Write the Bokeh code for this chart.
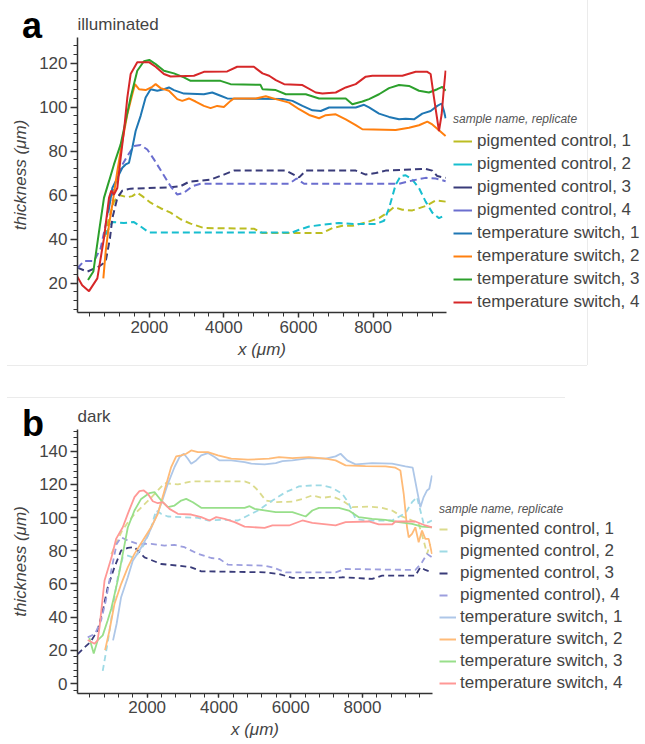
from bokeh.plotting import figure
from bokeh.layouts import column
from bokeh.models import Legend, LegendItem, Range1d, SingleIntervalTicker, Div
from bokeh.embed import file_html
from bokeh.resources import INLINE

# ---------------- data: panel a (illuminated) ----------------
labels_a = ["pigmented control, 1", "pigmented control, 2", "pigmented control, 3",
            "pigmented control, 4", "temperature switch, 1", "temperature switch, 2",
            "temperature switch, 3", "temperature switch, 4"]
colors_a = ["#bcbd22", "#17becf", "#393b79", "#6b6ecf", "#1f77b4", "#ff7f0e", "#2ca02c", "#d62728"]

a_pc1_x = [800, 920, 1053, 1187, 1411, 1545, 1678, 1812, 2036, 2304, 2571, 2839, 3107, 3464, 4804,
           5036, 6643, 6911, 7179, 7446, 7804, 8161, 8384, 8562, 8786, 9054, 9411, 9679, 9946]
a_pc1_y = [41, 49.5, 57, 60, 59, 59.5, 61, 59.5, 56.5, 54, 52, 49, 47, 45, 44.7,
           42.7, 42.7, 45, 46, 46, 47.5, 49.5, 52, 54.5, 53.3, 53, 55, 57.5, 57]
a_pc2_x = [830, 920, 1009, 1321, 1589, 1768, 1991, 5839, 6018, 6286, 6643, 7089, 7536, 8071, 8295,
           8429, 8607, 8741, 8875, 9054, 9232, 9411, 9589, 9768, 9946]
a_pc2_y = [42, 45, 47.7, 47.3, 47.7, 45.7, 43, 43, 44.2, 45.7, 46.5, 47.3, 46.8, 46.8, 48.3,
           54, 64.7, 68.6, 69, 67, 63.2, 57, 52, 49.5, 51]
a_pc3_x = [71, 339, 652, 830, 946, 1009, 1143, 1277, 1500, 2571, 2839, 3063, 3643, 4000, 4268,
           5661, 6018, 6196, 7536, 7804, 8071, 8339, 9411, 9589, 9723, 9946]
a_pc3_y = [27, 25.2, 27.5, 29.7, 40.4, 49.5, 58.7, 62, 62.9, 63.5, 64, 66, 67, 69.3, 71.1,
           71.1, 68, 71.1, 71.1, 69.3, 70, 71.1, 71.9, 71.1, 68.6, 67.8]
a_pc4_x = [71, 250, 518, 696, 830, 920, 1053, 1232, 1411, 1589, 1768, 1946, 2125, 2348, 2571,
           2750, 2929, 3152, 3375, 5750, 5950, 6150, 8696, 9054, 9411, 9679, 9946]
a_pc4_y = [26.7, 30, 30, 35.8, 46.5, 55.6, 63.2, 72.4, 77.7, 82.3, 82.7, 80.7, 76.2, 70.1, 64,
           60.2, 61, 64, 65.1, 65.1, 67.5, 65.1, 65.1, 66.6, 67.8, 67.5, 66.3]
a_ts1_x = [900, 1009, 1143, 1277, 1366, 1455, 1545, 1634, 1768, 1902, 2036, 2214, 2393, 2527, 2661,
           2929, 3464, 3688, 3911, 4090, 5571, 5839, 6107, 6375, 6598, 6821, 7536, 7759, 7893, 8161,
           8429, 8696, 8875, 9098, 9321, 9545, 9723, 9840, 9902, 9946]
a_ts1_y = [52, 63.2, 67.8, 72.4, 73.9, 74.6, 81.5, 89.1, 96, 104.3, 108.1, 107.4, 108.1, 108.9, 107.7,
           106.1, 105.8, 106.6, 105.1, 103.9, 103.6, 102.8, 100.5, 98.5, 98.2, 99.8, 99.8, 101, 99.8, 97,
           95.5, 94.4, 94.7, 94.4, 97, 98.2, 100.5, 101.6, 98.2, 94.9]
a_ts2_x = [768, 830, 920, 1009, 1143, 1277, 1411, 1545, 1616, 1723, 1902, 2080, 2170, 2304, 2527,
           2750, 2884, 3063, 3241, 3464, 3643, 3821, 4000, 4179, 4268, 4857, 5125, 5393, 5750, 6018,
           6286, 6553, 6732, 7000, 7268, 7536, 7714, 8607, 8964, 9232, 9455, 9589, 9768, 9946]
a_ts2_y = [22.1, 34.3, 46.5, 55.6, 70.8, 84.5, 96.7, 105.8, 110.4, 108.1, 107.7, 109.2, 110.4, 108.6, 107.4,
           103.6, 102.8, 103.9, 102.5, 100.5, 99.5, 100.5, 100, 102.8, 103.9, 103.9, 104.9, 103.6, 102, 99,
           96.4, 94.9, 96.3, 96.7, 94.4, 91.8, 89.9, 89.6, 90.6, 91.7, 93.4, 92.1, 89.4, 86.8]
a_ts3_x = [357, 500, 652, 785, 920, 1053, 1232, 1366, 1500, 1678, 1857, 2000, 2170, 2393, 2661,
           2929, 3107, 3911, 4179, 4982, 5036, 5393, 5661, 6196, 6553, 7268, 7446, 7714, 7893, 8161,
           8429, 8696, 8964, 9232, 9500, 9723, 9857, 9946]
a_ts3_y = [21.4, 25.2, 43.4, 58.7, 66.3, 73.9, 83, 93.7, 104.3, 116.5, 120.8, 121.4, 119.5, 116.5, 115.3,
           113.5, 111.9, 111.9, 110.4, 110.1, 108.1, 107.7, 105.8, 105.8, 103.9, 103.9, 101.3, 102.5, 103.6, 105.8,
           108.6, 110, 109.6, 107.4, 106.6, 108.1, 109.2, 107.4]
a_ts4_x = [71, 200, 384, 607, 785, 920, 982, 1053, 1143, 1232, 1321, 1411, 1500, 1678, 2000,
           2170, 2393, 2571, 3197, 3464, 4090, 4357, 4804, 5036, 5214, 5393, 5616, 6107, 6464, 6643,
           7000, 7268, 7536, 7804, 7982, 8786, 9143, 9455, 9545, 9634, 9768, 9840, 9902, 9946]
a_ts4_y = [22.9, 19, 16.3, 22.1, 40.4, 58.7, 62, 60.2, 63.2, 76.9, 89, 104.3, 115, 120.3, 120.3,
           118.3, 115, 113.9, 114.2, 116, 116.2, 118.3, 118.3, 115.3, 114.2, 112.2, 110.4, 110, 106.6, 106.1,
           106.6, 108.9, 110.4, 113.8, 114.2, 114.2, 116, 116, 115, 104.3, 89.1, 96.7, 108.9, 116.5]

# ---------------- data: panel b (dark) ----------------
labels_b = ["pigmented control, 1", "pigmented control, 2", "pigmented control, 3",
            "pigmented control), 4", "temperature switch, 1", "temperature switch, 2",
            "temperature switch, 3", "temperature switch, 4"]
colors_b = ["#dbdb8d", "#9edae5", "#393b79", "#9c9ede", "#aec7e8", "#ffbb78", "#98df8a", "#ff9896"]

b_pc1_x = [1000, 1300, 1461, 1647, 1833, 2112, 2298, 2484, 2856, 3228, 4716, 4902, 5088, 5305, 5583,
           6046, 6324, 6602, 6880, 7158, 7435, 7713, 8176, 8546, 8824, 9102, 9380, 9565, 9704, 9797, 9889]
b_pc1_y = [78, 92, 97, 102, 106, 112, 116.3, 120.7, 119.9, 121.7, 121.7, 120.3, 116.3, 110.2, 109.2,
           109.6, 111.2, 113.3, 111.8, 112.7, 110.2, 106.2, 106.6, 105.8, 104.2, 100.6, 98.2, 96.2, 86.1, 78.1, 84.1]
b_pc2_x = [763, 903, 996, 1089, 1182, 1321, 1461, 1600, 1740, 1926, 2112, 2251, 2391, 2577, 2949,
           3414, 3693, 4158, 4530, 4809, 5088, 5491, 5861, 6231, 6602, 6880, 7158, 7435, 7602, 7806,
           8083, 8454, 8824, 9195, 9380, 9519, 9612, 9704, 9843, 9935]
b_pc2_y = [7.6, 25, 38, 51.9, 64, 76, 77, 76, 78.1, 84.1, 94.1, 104.2, 102.2, 100.6, 100.2,
           99.8, 98.2, 98.6, 98.2, 101.2, 104.2, 110.2, 115.3, 118.7, 119.3, 119.3, 117.9, 114.3, 109.2, 99.2,
           98.2, 98.2, 98.2, 102.6, 109.2, 112.3, 104.2, 96.2, 97.2, 98.2]
b_pc3_x = [66, 252, 420, 620, 763, 903, 1089, 1275, 1461, 1647, 1786, 1926, 2112, 2391, 2856,
           3228, 3507, 5274, 5676, 6046, 7250, 7435, 8269, 8546, 9472, 9612, 9750, 9935]
b_pc3_y = [17.7, 21.7, 25, 32, 43.9, 58, 70, 80.1, 81.7, 82.1, 79.1, 76, 74.4, 72, 71,
           70, 67.6, 67, 66, 63.6, 63.6, 64, 63, 65, 65, 70, 68.4, 67]
b_pc4_x = [345, 550, 717, 850, 1000, 1150, 1275, 1461, 1740, 2112, 2484, 2763, 3042, 3414, 3786,
           4018, 4251, 5274, 5491, 5861, 7250, 7528, 9472, 9658, 9797, 9935]
b_pc4_y = [27.8, 30, 38, 50, 68, 84, 88.1, 86.1, 84.1, 84.1, 83.1, 83.5, 82.1, 78.1, 75.6,
           75, 71.6, 71, 70, 67, 67, 69, 68.4, 73, 78.1, 76]
b_ts1_x = [1050, 1150, 1275, 1461, 1600, 1786, 2019, 2205, 2391, 2577, 2763, 2902, 3023, 3135, 3228,
           3367, 3507, 3693, 3879, 4018, 4344, 4716, 4902, 5274, 5583, 5769, 6046, 6509, 6972, 7250,
           7389, 7574, 7806, 8269, 8824, 9195, 9398, 9519, 9612, 9704, 9797, 9861, 9935]
b_ts1_y = [26, 36, 52, 64, 74, 80.1, 89.1, 98.2, 108.2, 120.3, 130.4, 136.4, 138.4, 135.4, 132.4,
           134.4, 137.4, 138.8, 136.4, 134.4, 134.4, 133.4, 132.4, 132, 132.8, 134, 134.4, 135.8, 135.4, 136.8,
           138.4, 134.4, 132, 132.8, 132.4, 130.8, 130, 116.3, 106.2, 112.3, 116.3, 117.3, 125.3]
b_ts2_x = [828, 949, 1089, 1275, 1461, 1647, 1879, 2112, 2298, 2484, 2670, 2809, 2949, 3088, 3228,
           3414, 3693, 3972, 4344, 4809, 5398, 5676, 6046, 6509, 6972, 7250, 7528, 8083, 8639, 8917,
           9056, 9148, 9241, 9287, 9380, 9472, 9565, 9658, 9750, 9843, 9935]
b_ts2_y = [20.1, 31.8, 47.9, 59.9, 70, 78.1, 86.1, 94.1, 102.2, 116.3, 130.4, 136.8, 137.4, 138.4, 140.4,
           139.4, 139.4, 137.4, 135.4, 134.8, 135.4, 136.4, 135.8, 136.4, 135.4, 134.4, 131.4, 131, 130.8, 130,
           128.3, 114.3, 94.1, 88.1, 90.1, 94.1, 85.1, 92.1, 87.1, 87.1, 78.1]
b_ts3_x = [391, 512, 624, 763, 900, 1000, 1180, 1286, 1461, 1647, 1833, 2065, 2205, 2391, 2577,
           2763, 2949, 3088, 3274, 3507, 4716, 4855, 4995, 5583, 6046, 6417, 6602, 6787, 7343, 7620,
           7898, 8269, 8639, 9010, 9380, 9658, 9935]
b_ts3_y = [27.4, 18.1, 26.2, 29, 38, 45, 62, 74, 94, 104.2, 111.2, 114.7, 115.3, 110.2, 106.2,
           107.2, 110.2, 111.2, 109.2, 105.8, 105.8, 106.8, 105.2, 103.2, 103.2, 100.6, 104.2, 105.8, 105.8, 104.2,
           100.2, 99.2, 98.6, 97.2, 96.2, 94.5, 94.1]
b_ts4_x = [345, 535, 620, 674, 813, 1008, 1135, 1321, 1461, 1647, 1786, 1907, 2019, 2158, 2298,
           2437, 2623, 2856, 3228, 3507, 3739, 3925, 4158, 4437, 4716, 5274, 5491, 5954, 6324, 6602,
           7250, 7528, 8176, 8454, 8824, 8917, 9472, 9750, 9935]
b_ts4_y = [26.2, 24, 26, 34, 62, 76, 87.1, 94.1, 102.2, 112.3, 115.9, 116.3, 114.3, 109.8, 108.6,
           109.2, 105.2, 102.2, 101.8, 100.2, 98.2, 100.2, 99.2, 97.2, 94.5, 93.7, 95.2, 95.2, 98.2, 96.8,
           95.2, 97.2, 97.6, 95.8, 95.8, 97.6, 97.6, 95.2, 94.1]

series_a = [(a_pc1_x, a_pc1_y), (a_pc2_x, a_pc2_y), (a_pc3_x, a_pc3_y), (a_pc4_x, a_pc4_y),
            (a_ts1_x, a_ts1_y), (a_ts2_x, a_ts2_y), (a_ts3_x, a_ts3_y), (a_ts4_x, a_ts4_y)]
series_b = [(b_pc1_x, b_pc1_y), (b_pc2_x, b_pc2_y), (b_pc3_x, b_pc3_y), (b_pc4_x, b_pc4_y),
            (b_ts1_x, b_ts1_y), (b_ts2_x, b_ts2_y), (b_ts3_x, b_ts3_y), (b_ts4_x, b_ts4_y)]
dashed = [True, True, True, True, False, False, False, False]

FONT = "Liberation Sans"
TXT = "#444444"


def make_panel(title, series, labels, colors, xr, yr, fw, fh, bl, bt, bb,
               ytick_out, xtick_out, title_standoff, dash, lw, leg_dash,
               glyph_w, label_standoff, spacing, title_gap, leg_x):
    p = figure(frame_width=fw, frame_height=fh, x_range=Range1d(*xr), y_range=Range1d(*yr),
               output_backend="svg", toolbar_location=None,
               min_border_left=bl, min_border_top=bt, min_border_bottom=bb, min_border_right=10)
    p.outline_line_color = None
    p.grid.visible = False
    p.background_fill_color = "white"
    p.border_fill_color = None

    p.title.text = title
    p.title.text_font = FONT
    p.title.text_font_size = "17px"
    p.title.text_font_style = "normal"
    p.title.text_color = TXT
    p.title.align = "left"
    p.title.standoff = title_standoff

    p.xaxis.ticker = SingleIntervalTicker(interval=2000, num_minor_ticks=5)
    p.yaxis.ticker = SingleIntervalTicker(interval=20, num_minor_ticks=5)
    p.xaxis.axis_label = "x (μm)"
    p.yaxis.axis_label = "thickness (μm)"
    for ax in (p.xaxis, p.yaxis):
        ax.axis_label_text_font = FONT
        ax.axis_label_text_font_size = "17px"
        ax.axis_label_text_font_style = "italic"
        ax.axis_label_text_color = TXT
        ax.major_label_text_font = FONT
        ax.major_label_text_font_size = "17px"
        ax.major_label_text_color = TXT
        ax.axis_line_color = "#333333"
        ax.axis_line_width = 1.5
        ax.major_tick_line_color = "#333333"
        ax.major_tick_line_width = 1.5
        ax.minor_tick_line_color = "#333333"
        ax.major_tick_in = 0
        ax.minor_tick_in = 0
        ax.minor_tick_out = 4
    p.yaxis.major_tick_out = ytick_out
    p.xaxis.major_tick_out = xtick_out
    p.yaxis.major_label_standoff = 3
    p.xaxis.major_label_standoff = 3
    p.yaxis.axis_label_standoff = 6
    p.xaxis.axis_label_standoff = 4

    items = []
    for (xs, ys), lab, col, d in zip(series, labels, colors, dashed):
        p.line(xs, ys, line_color=col, line_width=lw, line_dash=(dash if d else "solid"))
        # hidden twin of the series, only used to draw the legend swatch
        proxy = p.line(xs, ys, line_color=col, line_width=2,
                       line_dash=(leg_dash if d else "solid"), visible=False)
        items.append(LegendItem(label=lab, renderers=[proxy]))

    leg = Legend(items=items, location=(leg_x, 0), title="sample name, replicate",
                 title_text_font=FONT, title_text_font_size="12px", title_text_font_style="italic",
                 title_text_color="#555555", title_standoff=title_gap,
                 label_text_font=FONT, label_text_font_size="17px", label_text_color=TXT,
                 glyph_width=glyph_w, glyph_height=20, label_height=20, label_standoff=label_standoff,
                 spacing=spacing, padding=0, margin=0, border_line_color=None,
                 background_fill_alpha=0, inactive_fill_alpha=0, click_policy="none")
    p.add_layout(leg, "right")
    return p


pa = make_panel("illuminated", series_a, labels_a, colors_a, (75, 9970), (6.6, 131.6),
                369, 275, 77, 37, 56, 7, 5, 7, "7 4", 2, "solid", 19, 5, 3, 5, 7)
pb = make_panel("dark", series_b, labels_b, colors_b, (60, 9950), (-6, 153),
                355, 264, 73, 61, 51, 7, 4, 8, "6 4", 1.8, "8 30", 17, 4, 2, 3, 7)

# faint panel frames (drawn behind the figures)
rule = {"background-color": "#ebebeb"}
v_rule_a = Div(text="", width=1, height=365, margin=(0, 0, 0, 587), styles=rule)
h_rule_a = Div(text="", width=580, height=1, margin=(0, 0, 0, 7), styles=rule)
h_rule_b = Div(text="", width=558, height=1, margin=(31, 0, -398, 7), styles=rule)

letter_style = {"font-family": "Liberation Sans", "font-size": "36px", "font-weight": "bold",
                "line-height": "36px", "color": "black"}
# panel letters, laid over the top-left corner of each panel
div_a = Div(text="a", width=36, height=40, margin=(-736, 0, 0, 22), styles=letter_style)
div_b = Div(text="b", width=36, height=40, margin=(358, 0, 298, 22), styles=letter_style)

layout = column(v_rule_a, h_rule_a, h_rule_b, pa, pb, div_a, div_b, spacing=0)
open("out.html", "w").write(file_html(layout, INLINE))
